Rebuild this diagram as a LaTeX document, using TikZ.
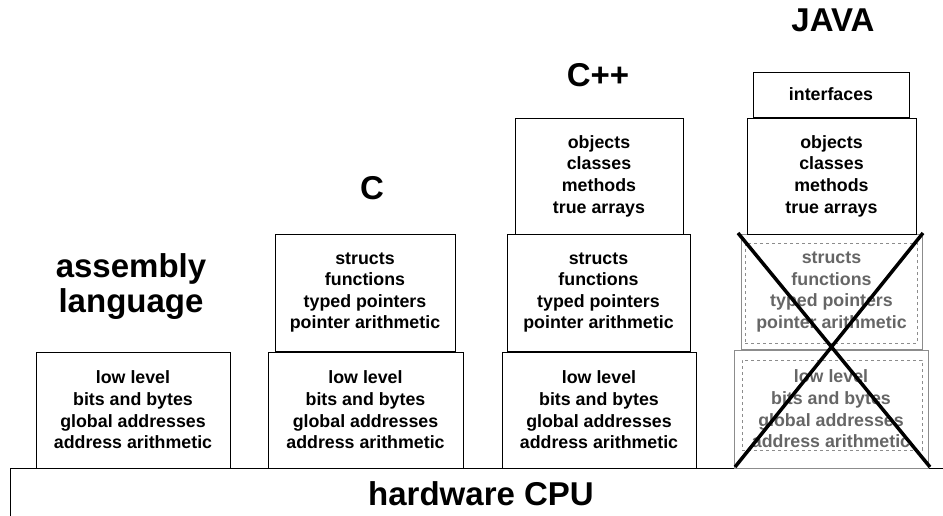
\documentclass[tikz,border=0pt]{standalone}
\usepackage{fontspec}
\setmainfont{Liberation Sans}
\begin{document}
\begin{tikzpicture}[x=1pt,y=-1pt,
  box/.style={draw, line width=0.9pt, align=center, inner sep=0pt,
    font=\fontsize{17.8}{21.6}\selectfont\bfseries},
  gbox/.style={box, draw=black!45, line width=0.7pt, text=black!60},
  ibox/.style={draw=black!45, line width=0.6pt, dashed, inner sep=0pt},
  title/.style={font=\fontsize{33}{36}\selectfont\bfseries, align=center, inner sep=0pt},
  xline/.style={line width=3.5pt}]
\useasboundingbox (0,0) rectangle (943,516);
% hardware
\node[draw, line width=0.9pt, minimum width=945pt, minimum height=60pt, anchor=north west, inner sep=0pt] (hw) at (10,468) {};
\node[title] (hwt) at (481,494) {hardware CPU};
% titles
\node[title] (asm) at (131,287) {assembly\\[-1pt]language};
\node[title] (ct) at (372,188) {C};
\node[title] (cppt) at (598,75) {C++};
\node[title] (javat) at (833,20) {JAVA};
% column 1
\node[box, minimum width=194pt, minimum height=116pt] (a1) at (133,410) {low level\\bits and bytes\\global addresses\\address arithmetic};
% column 2
\node[box, minimum width=195pt, minimum height=116pt] (c1) at (365.5,410) {low level\\bits and bytes\\global addresses\\address arithmetic};
\node[box, minimum width=180pt, minimum height=117pt] (c2) at (365,292.5) {structs\\functions\\typed pointers\\pointer arithmetic};
% column 3
\node[box, minimum width=194pt, minimum height=116pt] (p1) at (599,410) {low level\\bits and bytes\\global addresses\\address arithmetic};
\node[box, minimum width=183pt, minimum height=117pt] (p2) at (598.5,292.5) {structs\\functions\\typed pointers\\pointer arithmetic};
\node[box, minimum width=168pt, minimum height=116pt] (p3) at (599,176) {objects\\classes\\methods\\true arrays};
% column 4
\node[gbox, minimum width=194pt, minimum height=118pt] (j1) at (831,409) {low level\\bits and bytes\\global addresses\\address arithmetic};
\node[ibox, minimum width=180pt, minimum height=90pt] (j1i) at (832,405) {};
\node[gbox, minimum width=181pt, minimum height=115pt] (j2) at (831.5,292) {structs\\functions\\typed pointers\\pointer arithmetic};
\node[ibox, minimum width=172pt, minimum height=100pt] (j2i) at (831,293) {};
\node[box, minimum width=169pt, minimum height=116pt] (j3) at (831.5,176) {objects\\classes\\methods\\true arrays};
\node[box, minimum width=156pt, minimum height=45pt] (j4) at (831,94.5) {interfaces};
% cross
\coordinate (x1) at (738,233);
\coordinate (x2) at (930,467);
\coordinate (x3) at (923,233);
\coordinate (x4) at (735,467);
\draw[xline] (x1) -- (x2);
\draw[xline] (x3) -- (x4);
\end{tikzpicture}
\end{document}
